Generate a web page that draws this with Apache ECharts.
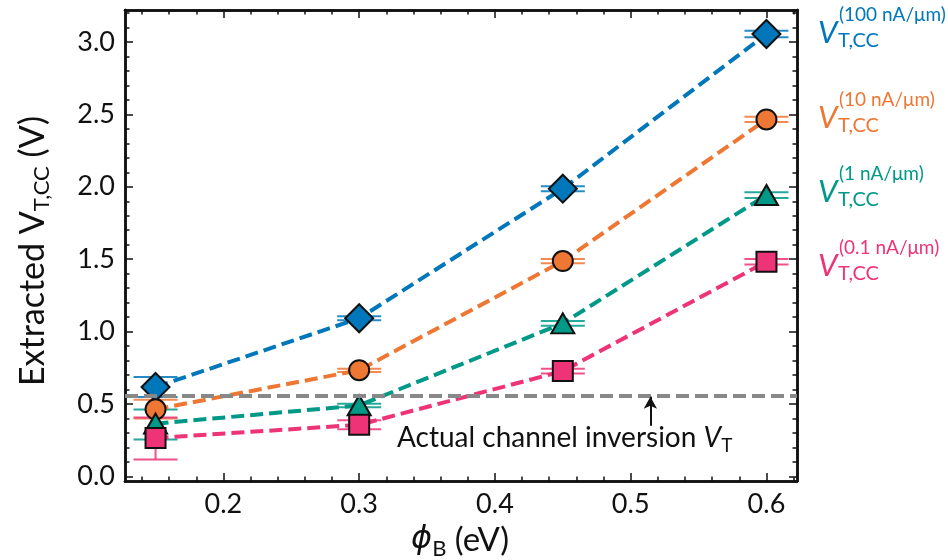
<!DOCTYPE html>
<html>
<head>
<meta charset="utf-8">
<script src="https://cdn.jsdelivr.net/npm/echarts@6/dist/echarts.min.js"></script>
<style>
  html, body { margin: 0; padding: 0; background: #fff; }
  #main { width: 948px; height: 560px; }
</style>
</head>
<body>
<div id="main"></div>
<script>
// 势垒高度 (eV)
var phiB = [0.15, 0.3, 0.45, 0.6];

// 各电流判据下提取的阈值电压 (V) 及误差范围
var vt100 = [0.617, 1.092, 1.987, 3.055];
var vt100Lo = [0.548, 1.078, 1.970, 3.032];
var vt100Hi = [0.686, 1.106, 2.004, 3.077];

var vt10 = [0.463, 0.733, 1.487, 2.465];
var vt10Lo = [0.399, 0.721, 1.472, 2.448];
var vt10Hi = [0.530, 0.744, 1.502, 2.483];

var vt1 = [0.364, 0.490, 1.057, 1.943];
var vt1Lo = [0.254, 0.478, 1.041, 1.923];
var vt1Hi = [0.461, 0.502, 1.073, 1.963];

var vt01 = [0.265, 0.356, 0.727, 1.483];
var vt01Lo = [0.117, 0.325, 0.710, 1.463];
var vt01Hi = [0.406, 0.387, 0.744, 1.502];

// 实际沟道反型阈值
var vtActual = 0.56;
var arrowX = 0.5145;

// 刻度
var xTicks = [0.2, 0.3, 0.4, 0.5, 0.6];
var yTicks = [0.0, 0.5, 1.0, 1.5, 2.0, 2.5, 3.0];
var xMin = 0.1275, xMax = 0.6225;
var yMin = -0.032, yMax = 3.221;

var labels = ['100 nA/μm', '10 nA/μm', '1 nA/μm', '0.1 nA/μm'];
var colors = ['#0077BB', '#EE7733', '#009988', '#EE3377'];
var symbols = ['diamond', 'circle', 'triangle', 'rect'];
var symbolSizes = [[28, 28], 20, [23, 20], 20];

var FONT = 'Lato';
var INK = '#111';

//次刻度
var xMinor = [];
for (var i = 7; i <= 31; i++) {
    var v = Math.round(i * 2) / 100;
    if (Math.round(v * 100) % 10 != 0) xMinor.push(v);
}
var yMinor = [];
for (var j = 0; j <= 32; j++) {
    if (j % 5 != 0) yMinor.push(j / 10);
}

function makeAxis(pos, min, max, values, len, showLabel) {
    return {
        type: 'value',
        position: pos,
        min: min,
        max: max,
        splitLine: {show: false},
        axisLine: {show: true, onZero: false, lineStyle: {color: INK, width: 2.5}},
        axisTick: {show: true, inside: true, length: len, customValues: values,
                   lineStyle: {color: INK, width: 1.5}},
        axisLabel: {show: showLabel, customValues: values, fontFamily: FONT,
                    fontSize: 27, color: INK, margin: 10,
                    formatter: function(v){ return v.toFixed(1); }}
    };
}

var xAxes = [
    makeAxis('bottom', xMin, xMax, xTicks, 8, true),
    makeAxis('top', xMin, xMax, xTicks, 8, false),
    makeAxis('bottom', xMin, xMax, xMinor, 4.5, false),
    makeAxis('top', xMin, xMax, xMinor, 4.5, false)
];
var yAxes = [
    makeAxis('left', yMin, yMax, yTicks, 8, true),
    makeAxis('right', yMin, yMax, yTicks, 8, false),
    makeAxis('left', yMin, yMax, yMinor, 4.5, false),
    makeAxis('right', yMin, yMax, yMinor, 4.5, false)
];

var allVals = [vt100, vt10, vt1, vt01];
var allLo = [vt100Lo, vt10Lo, vt1Lo, vt01Lo];
var allHi = [vt100Hi, vt10Hi, vt1Hi, vt01Hi];

var series = [];

// 误差棒
allVals.forEach(function(vals, k){
    var errData = phiB.map(function(x, i){ return [x, allLo[k][i], allHi[k][i]]; });
    series.push({
        type: 'custom',
        z: 1,
        data: errData,
        silent: true,
        renderItem: function(params, api){
            var lo = api.coord([api.value(0), api.value(1)]);
            var hi = api.coord([api.value(0), api.value(2)]);
            var hw = 22;
            var st = {stroke: colors[k], lineWidth: 2, opacity: 0.85};
            return {
                type: 'group',
                children: [
                    {type: 'line', shape: {x1: lo[0], y1: lo[1], x2: hi[0], y2: hi[1]}, style: st},
                    {type: 'line', shape: {x1: lo[0] - hw, y1: lo[1], x2: lo[0] + hw, y2: lo[1]}, style: st},
                    {type: 'line', shape: {x1: hi[0] - hw, y1: hi[1], x2: hi[0] + hw, y2: hi[1]}, style: st}
                ]
            };
        }
    });
});

// 虚线和标记
allVals.forEach(function(vals, k){
    series.push({
        name: labels[k],
        type: 'line',
        z: 3,
        data: phiB.map(function(x, i){ return [x, vals[i]]; }),
        symbol: symbols[k],
        symbolSize: symbolSizes[k],
        showAllSymbol: true,
        lineStyle: {color: colors[k], width: 4, type: [13, 6]},
        itemStyle: {color: colors[k], borderColor: INK, borderWidth: 2, opacity: 1},
        animation: false
    });
});

// 实际反型阈值参考线和箭头
series.push({
    type: 'line',
    data: [],
    z: 2,
    markLine: {
        silent: true,
        animation: false,
        data: [
            [{coord: [xMin, vtActual], symbol: 'none'}, {coord: [xMax, vtActual], symbol: 'none'}]
        ],
        lineStyle: {color: '#888', width: 4, type: [13, 6]},
        label: {show: false}
    }
});
series.push({
    type: 'line',
    data: [],
    z: 4,
    markLine: {
        silent: true,
        animation: false,
        symbol: ['none', 'arrow'],
        symbolSize: [10, 12],
        data: [
            [{coord: [arrowX, 0.35]}, {coord: [arrowX, vtActual - 0.01]}]
        ],
        lineStyle: {color: INK, width: 2, type: 'solid'},
        label: {show: false}
    }
});

// 右侧图例文字
var graphics = [];
var legendY = [32, 117, 191, 265];
labels.forEach(function(lab, k){
    graphics.push({
        type: 'text', left: 818, top: legendY[k] - 15,
        style: {text: 'V', fontFamily: FONT, fontStyle: 'italic', fontSize: 31, fill: colors[k]}
    });
    graphics.push({
        type: 'text', left: 839, top: legendY[k] - 27,
        style: {text: '(' + lab + ')', fontFamily: FONT, fontSize: 19, fill: colors[k]}
    });
    graphics.push({
        type: 'text', left: 838, top: legendY[k] - 1,
        style: {text: 'T,CC', fontFamily: FONT, fontSize: 20, fill: colors[k]}
    });
});

// y轴标题
graphics.push({
    type: 'text',
    x: 33, y: 251,
    rotation: Math.PI / 2,
    style: {
        text: '{a|Extracted V}{s|T,CC}{a| (V)}',
        align: 'center', verticalAlign: 'middle',
        rich: {
            a: {fontFamily: FONT, fontSize: 34, fill: INK, lineHeight: 40},
            s: {fontFamily: FONT, fontSize: 22, fill: INK, lineHeight: 40, verticalAlign: 'bottom'}
        }
    }
});

// x轴标题
graphics.push({
    type: 'text',
    x: 460, y: 540,
    style: {
        text: '{v|ϕ}{s|B}{a| (eV)}',
        align: 'center', verticalAlign: 'middle',
        rich: {
            a: {fontFamily: FONT, fontSize: 33, fill: INK, lineHeight: 40},
            v: {fontFamily: 'DejaVu Sans', fontSize: 32, fontStyle: 'italic', fill: INK, lineHeight: 40},
            s: {fontFamily: FONT, fontSize: 22, fill: INK, lineHeight: 40, verticalAlign: 'bottom'}
        }
    }
});

// 注释文字
graphics.push({
    type: 'text',
    left: 397, top: 424,
    style: {
        text: '{a|Actual channel inversion }{v|V}{s|T}',
        rich: {
            a: {fontFamily: FONT, fontSize: 28, fill: INK, lineHeight: 34},
            v: {fontFamily: FONT, fontSize: 28, fontStyle: 'italic', fill: INK, lineHeight: 34},
            s: {fontFamily: FONT, fontSize: 19, fill: INK, lineHeight: 34, verticalAlign: 'bottom'}
        }
    }
});

var myChart = echarts.init(document.getElementById('main'));
var option = {
    animation: false,
    backgroundColor: '#fff',
    grid: {left: 125, right: 151, top: 10, bottom: 79, containLabel: false},
    xAxis: xAxes,
    yAxis: yAxes,
    series: series,
    graphic: graphics
};
myChart.setOption(option);
</script>
</body>
</html>
